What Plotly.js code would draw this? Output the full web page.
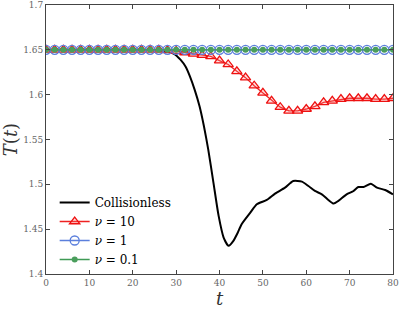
<!DOCTYPE html>
<html>
<head>
<meta charset="utf-8">
<script src="https://cdn.plot.ly/plotly-3.0.1.min.js"></script>
<style>html,body{margin:0;padding:0;background:#fff;}#chart{width:399px;height:309px;}</style>
</head>
<body>
<div id="chart"></div>
<script>
// Collisionless curve
var tCollisionless = [0, 5, 10, 15, 20, 24, 26, 27.8, 29.5, 31, 32.2, 33.2, 34.3, 35.4, 36.4, 37.4, 38.6, 39.8, 40.95, 42.1, 43.2, 44.2, 45.1, 47.1, 48.6, 50.9, 52.8, 55.1, 57.0, 59.0, 60.5, 62.0, 63.6, 65.1, 66.3, 67.4, 69.3, 70.9, 72.0, 73.2, 74.9, 76.3, 78.2, 80];
var TCollisionless = [1.65, 1.65, 1.65, 1.65, 1.65, 1.6498, 1.6494, 1.648, 1.6455, 1.639, 1.631, 1.620, 1.605, 1.587, 1.565, 1.539, 1.502, 1.4648, 1.4407, 1.4315, 1.437, 1.446, 1.4556, 1.4685, 1.4778, 1.4826, 1.4896, 1.4963, 1.5037, 1.503, 1.4981, 1.4926, 1.4889, 1.4826, 1.4785, 1.4815, 1.4889, 1.4926, 1.497, 1.497, 1.5007, 1.4963, 1.4937, 1.4889];

// Marker series, t = 0..80 every 2
var tMarkers = [0, 2, 4, 6, 8, 10, 12, 14, 16, 18, 20, 22, 24, 26, 28, 30, 32, 34, 36, 38, 40, 42, 44, 46, 48, 50, 52, 54, 56, 58, 60, 62, 64, 66, 68, 70, 72, 74, 76, 78, 80];
var TNu10 = [1.65, 1.65, 1.65, 1.65, 1.65, 1.65, 1.65, 1.65, 1.65, 1.65, 1.65, 1.65, 1.65, 1.65, 1.6495, 1.6485, 1.647, 1.6456, 1.644, 1.6426, 1.638, 1.6337, 1.626, 1.619, 1.610, 1.602, 1.593, 1.586, 1.582, 1.582, 1.584, 1.587, 1.5915, 1.593, 1.595, 1.596, 1.596, 1.596, 1.595, 1.595, 1.596];
var TNu1 = [1.65, 1.65, 1.65, 1.65, 1.65, 1.65, 1.65, 1.65, 1.65, 1.65, 1.65, 1.65, 1.65, 1.65, 1.65, 1.65, 1.65, 1.65, 1.65, 1.65, 1.65, 1.65, 1.65, 1.65, 1.65, 1.65, 1.65, 1.65, 1.65, 1.65, 1.65, 1.65, 1.65, 1.65, 1.65, 1.65, 1.65, 1.65, 1.65, 1.65, 1.65];
var TNu01 = [1.65, 1.65, 1.65, 1.65, 1.65, 1.65, 1.65, 1.65, 1.65, 1.65, 1.65, 1.65, 1.65, 1.65, 1.65, 1.65, 1.65, 1.65, 1.65, 1.65, 1.65, 1.65, 1.65, 1.65, 1.65, 1.65, 1.65, 1.65, 1.65, 1.65, 1.65, 1.65, 1.65, 1.65, 1.65, 1.65, 1.65, 1.65, 1.65, 1.65, 1.65];

var seriesNames = ['Collisionless', '<i>ν</i> = 10', '<i>ν</i> = 1', '<i>ν</i> = 0.1'];
var xTicks = [0, 10, 20, 30, 40, 50, 60, 70, 80];
var yTicks = [1.4, 1.45, 1.5, 1.55, 1.6, 1.65, 1.7];
var yTickText = ['1.4', '1.45', '1.5', '1.55', '1.6', '1.65', '1.7'];

var serif = "DejaVu Serif";

var traces = [
  {x: tCollisionless, y: TCollisionless, name: seriesNames[0], mode: 'lines', line: {color: '#000', width: 2, shape: 'spline', smoothing: 0.6}},
  {x: tMarkers, y: TNu10, name: seriesNames[1], mode: 'lines+markers', line: {color: '#ee2222', width: 1.3},
   marker: {symbol: 'triangle-up', size: 9, color: 'rgba(255,120,120,0.25)', line: {color: '#ee1111', width: 1.3}}},
  {x: tMarkers, y: TNu1, name: seriesNames[2], mode: 'lines+markers', line: {color: '#5b7fdc', width: 1.3},
   marker: {symbol: 'circle-open', size: 9, color: '#5b7fdc', line: {width: 1.3}}},
  {x: tMarkers, y: TNu01, name: seriesNames[3], mode: 'lines+markers', line: {color: '#3f9a55', width: 1.3},
   marker: {symbol: 'circle', size: 6, color: '#4a9e5c'}}
];

var axisCommon = {
  showgrid: false, zeroline: false, showline: true, linecolor: '#444', linewidth: 1,
  mirror: 'allticks', ticks: 'inside', ticklen: 4, tickcolor: '#444', tickwidth: 1,
  tickfont: {family: serif, size: 9, color: '#666'}
};

var layout = {
  width: 399, height: 309,
  margin: {l: 46, r: 6, t: 5, b: 35},
  paper_bgcolor: '#fff', plot_bgcolor: '#fff',
  showlegend: true,
  font: {family: serif},
  legend: {x: 0.025, y: 0.0, xanchor: 'left', yanchor: 'bottom', bgcolor: 'rgba(0,0,0,0)',
           font: {family: serif, size: 12, color: '#000'}, tracegroupgap: 0, itemwidth: 30},
  xaxis: Object.assign({}, axisCommon, {range: [0, 80], tickvals: xTicks,
    title: {text: '<i>t</i>', font: {family: serif, size: 18, color: '#333'}, standoff: 6}}),
  yaxis: Object.assign({}, axisCommon, {range: [1.4, 1.7], tickvals: yTicks, ticktext: yTickText,
    title: {text: '<i>T</i>(<i>t</i>)', font: {family: serif, size: 18, color: '#333'}, standoff: 4}})
};

Plotly.newPlot('chart', traces, layout, {displayModeBar: false, staticPlot: true});
</script>
</body>
</html>
